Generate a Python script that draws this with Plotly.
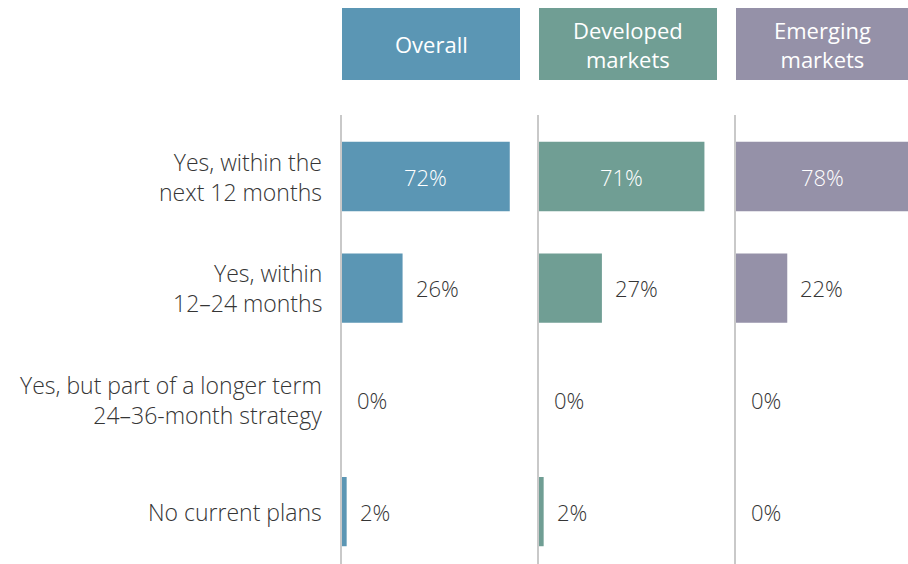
import plotly.graph_objects as go

categories = ["Yes, within the<br>next 12 months", "Yes, within<br>12–24 months",
              "Yes, but part of a longer term<br>24–36-month strategy", "No current plans"]
panels = ["Overall", "Developed<br>markets", "Emerging<br>markets"]
overall = [72, 26, 0, 2]
developed = [71, 27, 0, 2]
emerging = [78, 22, 0, 0]
series = [overall, developed, emerging]
colors = ["#5b96b4", "#709e94", "#9591a8"]

W, H = 908, 564
px_per_pct = 2.33
xdom_px = [(342, 520), (539, 717), (736, 908)]
ytop_px, ybot_px = 115, 564
first_center, spacing = 176.5, 111.7

FONT = "Open Sans"
FS_CAT, FS_VAL, FS_HEAD = 23, 22, 22
TXT = "#353535"
fig = go.Figure()
layout = dict(width=W, height=H, margin=dict(l=0, r=0, t=0, b=0),
              plot_bgcolor="white", paper_bgcolor="white", showlegend=False,
              font=dict(family=FONT, color=TXT, size=FS_CAT, weight=300))

y0 = (ytop_px - first_center) / spacing
y1 = (ybot_px - first_center) / spacing
shapes, annotations = [], []

for i, (vals, col, name) in enumerate(zip(series, colors, panels)):
    xa = "x" if i == 0 else f"x{i+1}"
    ya = "y" if i == 0 else f"y{i+1}"
    x_lo, x_hi = xdom_px[i]
    xmax = (x_hi - x_lo) / px_per_pct
    fig.add_trace(go.Bar(x=vals, y=list(range(len(categories))), orientation="h",
                         marker=dict(color=col, line=dict(width=0)), width=0.62,
                         xaxis=xa, yaxis=ya, hoverinfo="skip"))
    layout["xaxis" if i == 0 else f"xaxis{i+1}"] = dict(
        domain=[x_lo / W, x_hi / W], range=[0, xmax], visible=False,
        anchor=ya, fixedrange=True)
    layout["yaxis" if i == 0 else f"yaxis{i+1}"] = dict(
        domain=[1 - ybot_px / H, 1 - ytop_px / H], range=[y1, y0],
        anchor=xa, showline=True, linecolor="#c9c9c9", linewidth=1.5,
        showgrid=False, zeroline=False, showticklabels=False, ticks="",
        fixedrange=True)
    shapes.append(dict(type="rect", xref="paper", yref="paper",
                       x0=x_lo / W, x1=x_hi / W, y0=1 - 80 / H, y1=1 - 8 / H,
                       fillcolor=col, line=dict(width=0), layer="below"))
    annotations.append(dict(xref="paper", yref="paper", x=(x_lo + x_hi) / 2 / W,
                            y=1 - 44 / H, text=name, showarrow=False,
                            font=dict(color="white", size=FS_HEAD, family=FONT, weight=400),
                            xanchor="center", yanchor="middle", align="center"))
    for j, v in enumerate(vals):
        if v >= 50:
            annotations.append(dict(xref=xa, yref=ya, x=min(v, xmax) / 2, y=j,
                                    text=f"{v}%", showarrow=False,
                                    font=dict(color="white", size=FS_VAL, family=FONT, weight=300),
                                    xanchor="center", yanchor="middle"))
        else:
            annotations.append(dict(xref=xa, yref=ya, x=v, y=j, text=f"{v}%",
                                    showarrow=False, xshift=11 if v > 0 else 13,
                                    font=dict(color=TXT, size=FS_VAL, family=FONT, weight=300),
                                    xanchor="left", yanchor="middle"))

for j, c in enumerate(categories):
    annotations.append(dict(xref="paper", yref="y", x=324 / W, y=j,
                            text=c, showarrow=False, xanchor="right",
                            yanchor="middle", align="right",
                            font=dict(color=TXT, size=FS_CAT, family=FONT, weight=300)))

layout["shapes"] = shapes
layout["annotations"] = annotations
fig.update_layout(**layout)
fig.write_html("out.html", config={"displayModeBar": False},
               post_script="document.body.style.margin='0';document.body.style.overflow='hidden';")
